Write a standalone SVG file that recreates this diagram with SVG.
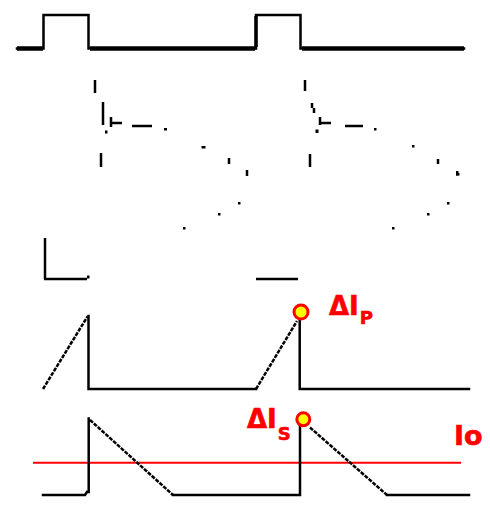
<svg xmlns="http://www.w3.org/2000/svg" width="490" height="505" viewBox="0 0 490 505">
<style>
.w{fill:none;stroke:#000;stroke-width:2.5;stroke-linecap:square;stroke-linejoin:miter}
.thick{fill:none;stroke:#000;stroke-width:4.5}
.ramp{fill:none;stroke:#000;stroke-width:2.5;stroke-dasharray:4 1.2}
.frag{fill:none;stroke:#000;stroke-width:2.5}
.dot{fill:#000}
.lbl{font-family:"DejaVu Sans","Liberation Sans",sans-serif;font-weight:bold;fill:#ff0000;stroke:#ff0000;stroke-width:0.6}
.mark{fill:#ffff00;stroke:#ff0000;stroke-width:3}
</style>
<rect width="490" height="505" fill="#fff"/>

<g id="gate-drive">
  <path class="w" d="M17,48.5 H43.5 V15 H88.5 V48.5 H256 V15 H300.5 V48.5 H464"/>
  <path class="thick" d="M17,48.5 H43 M90,48.5 H255 M302,48.5 H464"/>
  <path class="thick" d="M256,47 V16" style="stroke-width:3.5"/>
</g>

<g id="drain-voltage">
  <path class="frag" d="M95,80 V93 M103,102 V125 M111,117 V127 M111,123 H122 M132,126 H152 M101,153 V167 M229,158 V164 M247,170 V176 M45,238 V279 M44,279 H87"/>
  <path class="frag" d="M305,80 V91 M312,103 V108 M314,108 V113 M320,117 V125 M320,123 H331 M345,126 H363 M310,154 V167 M438,159 V164 M256,279 H298"/>
  <g class="dot">
    <rect x="164" y="128" width="3" height="2.5"/>
    <rect x="105" y="130.5" width="2.5" height="3"/>
    <rect x="201.5" y="146" width="4" height="2.5"/>
    <rect x="238" y="202" width="2.5" height="2.5"/>
    <rect x="218" y="213" width="2.5" height="2.5"/>
    <rect x="183" y="227" width="2.5" height="2.5"/>
    <rect x="87" y="275.5" width="2.5" height="3"/>
    <rect x="315.5" y="129.5" width="3" height="3.5"/>
    <rect x="374" y="128" width="2.5" height="2.5"/>
    <rect x="412" y="145" width="2.5" height="2.5"/>
    <rect x="456" y="171" width="2.5" height="4.5"/>
    <rect x="456" y="173" width="3.5" height="2.5"/>
    <rect x="447" y="202" width="2.5" height="2.5"/>
    <rect x="427" y="213" width="2.5" height="2.5"/>
    <rect x="392" y="227" width="2.5" height="2.5"/>
  </g>
</g>

<g id="primary-current">
  <path class="ramp" d="M43,389 L87.5,316.5"/>
  <path class="w" d="M88.5,316 V389 H256"/>
  <path class="ramp" d="M256,389 L297,321"/>
  <path class="w" d="M299.7,321 V389 H469"/>
  <circle class="mark" cx="301" cy="312" r="7"/>
  <text class="lbl" x="329" y="315" font-size="26">ΔI<tspan dx="1" dy="9" font-size="18">P</tspan></text>
</g>

<g id="secondary-current">
  <path d="M33,462.7 H461" fill="none" stroke="#ff0000" stroke-width="2"/>
  <path class="w" d="M43,495 H85 L87,492 M88.7,492 V418.5"/>
  <path class="ramp" d="M90,420 L173,495"/>
  <path class="w" d="M173,495 H300 V426"/>
  <path class="ramp" d="M310,427.5 L387,495"/>
  <path class="w" d="M387,495 H469"/>
  <circle class="mark" cx="303.3" cy="419.3" r="6.5"/>
  <text class="lbl" x="247" y="428" font-size="26">ΔI<tspan dx="1" dy="12" font-size="18">S</tspan></text>
  <text class="lbl" x="454" y="445" font-size="27">Io</text>
</g>
</svg>
